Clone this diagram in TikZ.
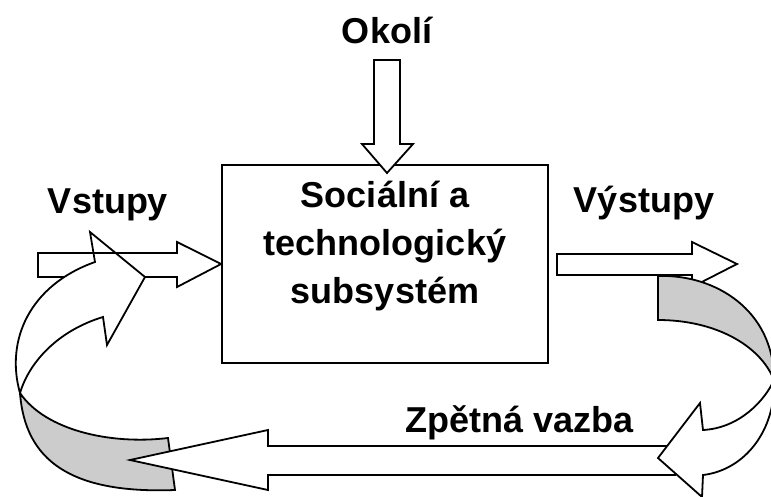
\documentclass[tikz,border=0pt]{standalone}
\usepackage{fontspec}
\setmainfont{Liberation Sans}
\usetikzlibrary{positioning}
\definecolor{BandGray}{HTML}{CCCCCC}

\begin{document}
\begin{tikzpicture}[
    x=1pt, y=-1pt,
    blk/.style={draw=black, fill=white, line width=1.8pt, line join=miter},
    band/.style={blk, fill=BandGray},
    lbl/.style={anchor=base, inner sep=0pt, font=\fontsize{36}{48}\selectfont\bfseries}
  ]
  \useasboundingbox (0,0) rectangle (771,496);
  \clip (0,0) rectangle (771,496);

  % central box
  \node[blk, minimum width=326pt, minimum height=198pt] (subsys) at (385,264) {};
  \node[lbl, align=center] (subsystxt) at (385,303) {Sociální a\\technologický\\subsystém};

  % Okoli arrow
  \draw[blk] (374,60) -- (400,60) -- (400,144) -- (413,144) -- (387,173) -- (362,144) -- (374,144) -- cycle;

  % Vstupy, Vystupy
  \draw[blk] (38,253) -- (177,253) -- (177,242) -- (subsys.west) -- (177,287) -- (177,277) -- (38,277) -- cycle;
  \draw[blk] (557,254) -- (692,254) -- (692,242) -- (737,264) -- (692,287) -- (692,275) -- (557,275) -- cycle;

  % back side of the feedback ribbon
  \draw[band] (658,276) -- (658,320) .. controls (715,320) and (760,345) .. (774,380)
    .. controls (774,310) and (715,274) .. (658,276) -- cycle;
  \draw[band] (20,393) .. controls (45,430) and (110,445) .. (168,438) -- (175,490)
    .. controls (70,494) and (25,460) .. (20,393) -- cycle;

  % Zpetna vazba
  \draw[blk] (675,446) -- (268,446) -- (268,430) -- (130,460) -- (268,490) -- (268,475) -- (675,475) -- cycle;

  % front side, curved heads
  \draw[blk] (774,380) .. controls (776,430) and (745,470) .. (703,475) -- (702,497) -- (658,458)
    -- (700,403) -- (703,430) .. controls (740,428) and (765,400) .. (774,380) -- cycle;
  \draw[blk] (20,393) .. controls (5,340) and (30,285) .. (95,262) -- (90,232) -- (145,277)
    -- (107,345) -- (103,317) .. controls (60,330) and (30,360) .. (20,393) -- cycle;
  \draw[line width=1.8pt] (38,253) -- (177,253);

  % labels
  \node[lbl] (okoli) at (387,43) {Okolí};
  \node[lbl] (vstupy) at (108,213) {Vstupy};
  \node[lbl] (vystupy) at (644,212) {Výstupy};
  \node[lbl] (zpetna) at (520,432) {Zpětná vazba};
\end{tikzpicture}
\end{document}
